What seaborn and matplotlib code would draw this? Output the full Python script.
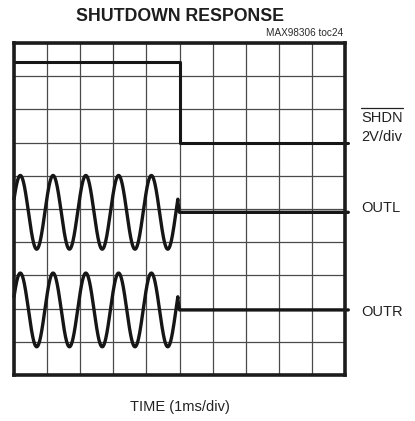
import numpy as np
import pandas as pd
import matplotlib
matplotlib.use("Agg")
import matplotlib.pyplot as plt
from matplotlib.lines import Line2D
import seaborn as sns

# ---- data (units: divisions) ----
shdn_time = [0.0, 5.0, 5.0, 10.1]
shdn_level = [9.43, 9.43, 7.0, 7.0]

tone_period = 0.99          # 1 kHz tone, ~1 div per cycle
tone_first_peak = 0.19
tone_amplitude = 1.11
shutdown_time = 4.95
settle_time = 5.0
outl_center = 4.9
outr_center = 1.96
outl_spike = 5.22
outr_spike = 2.28
trace_end = 10.1

channel_labels = ["OUTL", "OUTR"]
channel_centers = [outl_center, outr_center]
channel_spikes = [outl_spike, outr_spike]

sns.set_theme(style="white")
plt.rcParams["font.family"] = ["Liberation Sans", "DejaVu Sans"]

W, H = 415, 421
fig = plt.figure(figsize=(W / 100, H / 100), dpi=100)
ax = fig.add_axes([14 / W, 1 - 375 / H, (345 - 14) / W, (375 - 43) / H])

trace_color = "#161616"

# SHDN trace
df_shdn = pd.DataFrame({"t": shdn_time, "v": shdn_level})
sns.lineplot(data=df_shdn, x="t", y="v", ax=ax, color=trace_color, lw=2.2,
             sort=False, estimator=None, clip_on=False)

# OUTL / OUTR traces
t_tone = np.linspace(0, shutdown_time, 800)
for name, c, spike in zip(channel_labels, channel_centers, channel_spikes):
    v_tone = c + tone_amplitude * np.cos(2 * np.pi * (t_tone - tone_first_peak) / tone_period)
    t_all = np.concatenate([t_tone, [shutdown_time, settle_time, trace_end]])
    v_all = np.concatenate([v_tone, [spike, c, c]])
    df = pd.DataFrame({"t": t_all, "v": v_all})
    sns.lineplot(data=df, x="t", y="v", ax=ax, color=trace_color, lw=2.4,
                 sort=False, estimator=None, clip_on=False)

ax.set_xlim(0, 10)
ax.set_ylim(0, 10)
ax.set_xticks(np.arange(0, 11, 1))
ax.set_yticks(np.arange(0, 11, 1))
ax.grid(True, color="#4a4a4a", lw=0.9)
ax.tick_params(left=False, bottom=False, labelleft=False, labelbottom=False)
ax.set_xlabel("")
ax.set_ylabel("")
for s in ax.spines.values():
    s.set_color("#1c1c1c")
    s.set_linewidth(2.6)

# Texts
fig.text(179.5 / W, 1 - 16.5 / H, "SHUTDOWN RESPONSE", ha="center", va="center",
         fontsize=12.8, fontweight="bold", color="#1e1e1e")
fig.text(343 / W, 1 - 33 / H, "MAX98306 toc24", ha="right", va="center",
         fontsize=7.2, color="#2a2a2a")
fig.text(180 / W, 1 - 407 / H, "TIME (1ms/div)", ha="center", va="center",
         fontsize=10.5, color="#222222")

lab_x = 361 / W
fig.text(lab_x, 1 - 118.5 / H, "SHDN", ha="left", va="center", fontsize=10.5, color="#222222")
fig.add_artist(Line2D([361 / W, 403 / W], [1 - 108.3 / H, 1 - 108.3 / H],
                      color="#222222", lw=0.9, transform=fig.transFigure))
fig.text(lab_x, 1 - 137 / H, "2V/div", ha="left", va="center", fontsize=10.5, color="#222222")
fig.text(lab_x, 1 - 208.5 / H, channel_labels[0], ha="left", va="center", fontsize=10.5, color="#222222")
fig.text(lab_x, 1 - 311.5 / H, channel_labels[1], ha="left", va="center", fontsize=10.5, color="#222222")

fig.savefig("out.png", dpi=100)
